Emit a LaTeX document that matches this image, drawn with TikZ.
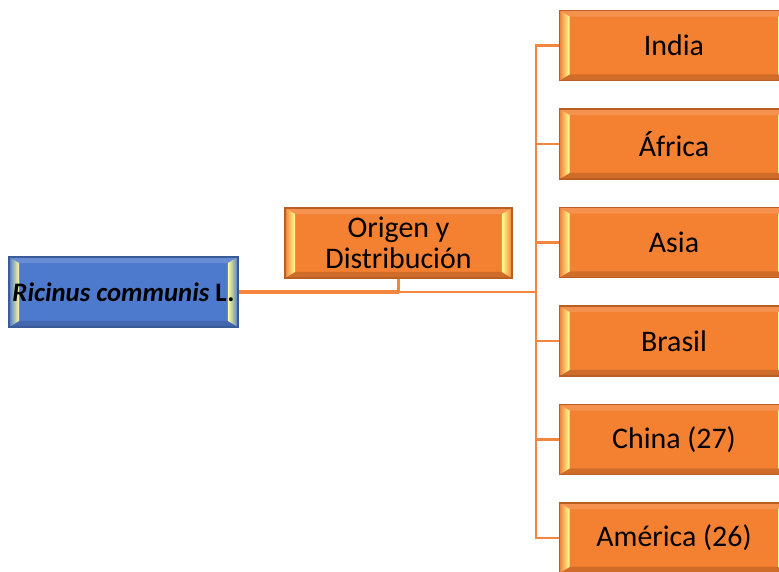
\documentclass[tikz,border=0pt]{standalone}
\usepackage{fontspec}
\setmainfont{Carlito}
\usepackage{tikz}
\usetikzlibrary{calc}
\definecolor{boxOrange}{RGB}{244,128,50}
\definecolor{boxBlue}{RGB}{78,122,206}
\definecolor{lineOrange}{RGB}{243,133,62}
\newcommand{\boxWidth}{4.58cm}
\newcommand{\boxHeight}{1.4cm}
\newcommand{\bevelX}{0.2cm}
\newcommand{\bevelY}{0.12cm}
\newcommand{\rowDistance}{98.5}
\newcommand{\placeNames}{india/India/0, africa/África/1, asia/Asia/2, brasil/Brasil/3, china/China (27)/4, america/América (26)/5}

\tikzset{
	bevelbox/.style={draw=#1!75!black, line width=.6pt, fill=#1, minimum width=\boxWidth, minimum height=\boxHeight, inner sep=1pt, align=center, font=\fontsize{17}{18}\selectfont,
		path picture={
			\coordinate (nw) at (path picture bounding box.north west);
			\coordinate (se) at (path picture bounding box.south east);
			\fill[white, opacity=.15] (nw) -- (nw -| se) -- ++(-\bevelX,-\bevelY) -- ($(nw)+(\bevelX,-\bevelY)$) -- cycle; % top
			\fill[black, opacity=.15] (se) -- (se -| nw) -- ++(\bevelX,\bevelY) -- ($(se)+(-\bevelX,\bevelY)$) -- cycle; % bottom
			\shade[left color=#1, right color=yellow!40!white] (nw) -- ($(nw)+(\bevelX,-\bevelY)$) -- ($(nw |- se)+(\bevelX,\bevelY)$) -- (nw |- se) -- cycle; % left
			\shade[left color=yellow!45!white, right color=#1] (se) -- ($(se)+(-\bevelX,\bevelY)$) -- ($(se |- nw)+(-\bevelX,-\bevelY)$) -- (se |- nw) -- cycle; % right
		}},
	link/.style={draw=lineOrange, line width=1.2pt}
}

\begin{document}
\begin{tikzpicture}[x=0.02cm, y=-0.02cm]
	\useasboundingbox (0,0) rectangle (779,572);
	\clip (0,0) rectangle (779,572);

	\node[bevelbox=boxBlue, font=\fontsize{15.2}{18}\selectfont] (ricinus) at (123.5,292) {\textbf{\textit{Ricinus communis} L.}};
	\node[bevelbox=boxOrange, minimum width=4.54cm] (origen) at (398.5,243) {Origen y\\Distribución};

	\coordinate (hub) at (536,292);

	\foreach \place/\name/\i in \placeNames
	{
		\node[bevelbox=boxOrange] (\place) at (674,45.5+\i*\rowDistance) {\name};
		\draw[link] (hub) |- (\place.west);
	}

	\draw[link, line width=1.8pt] (ricinus.east) -- (origen.south |- hub);
	\draw[link] (origen.south) -- (origen.south |- hub) -- (hub);
\end{tikzpicture}
\end{document}
